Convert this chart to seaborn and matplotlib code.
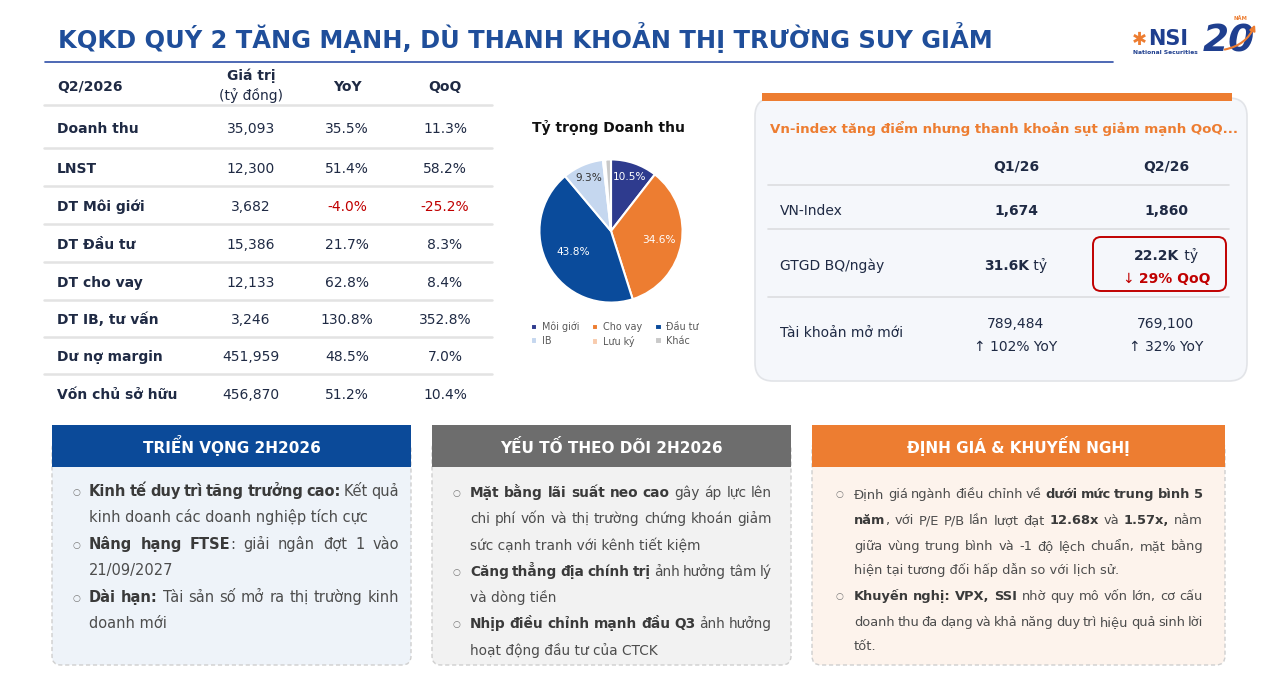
import numpy as np
import seaborn as sns
import matplotlib.pyplot as plt
from matplotlib.patches import FancyBboxPatch, Rectangle

sns.set_theme(style="white")
plt.rcParams['font.family'] = ['DejaVu Sans']

W, H = 1267, 676

# ---- data ----
row_labels = ["Doanh thu", "LNST", "DT Môi giới", "DT Đầu tư", "DT cho vay",
              "DT IB, tư vấn", "Dư nợ margin", "Vốn chủ sở hữu"]
row_values = [35093, 12300, 3682, 15386, 12133, 3246, 451959, 456870]
row_yoy = [35.5, 51.4, -4.0, 21.7, 62.8, 130.8, 48.5, 51.2]
row_qoq = [11.3, 58.2, -25.2, 8.3, 8.4, 352.8, 7.0, 10.4]

pie_labels = ["Môi giới", "Cho vay", "Đầu tư", "IB", "Lưu ký", "Khác"]
pie_shares = [10.5, 34.6, 43.8, 9.3, 0.5, 1.3]
pie_colors = ["#2e3b8e", "#ed7d31", "#0a4b9b", "#c5d7ef", "#f8cbad", "#c9c9c9"]

mkt_quarters = ["Q1/26", "Q2/26"]
mkt_index = ["1,674", "1,860"]
mkt_turnover = ["31.6K", "22.2K"]
turnover_qoq = -29
mkt_accounts = ["789,484", "769,100"]
accounts_yoy = [102, 32]

NAVY = "#1f2a44"
BLUE = "#1f4e9a"
ORANGE = "#ed7d31"
RED = "#c00000"

fig = plt.figure(figsize=(W / 100, H / 100), dpi=100)
fig.patch.set_facecolor("white")
ax = fig.add_axes([0, 0, 1, 1])
ax.set_xlim(0, W)
ax.set_ylim(H, 0)
ax.axis("off")
rend = fig.canvas.get_renderer()

_cache = {}


def text_w(s, size, bold):
    key = (s, size, bold)
    if key not in _cache:
        t = ax.text(0, 0, s, fontsize=size, fontweight="bold" if bold else "normal")
        _cache[key] = t.get_window_extent(rend).width
        t.remove()
    return _cache[key]


def adv(s, size, bold):
    # advance width (not ink width) of s
    return text_w("l" + s + "l", size, bold) - text_w("ll", size, bold)


def split_words(runs):
    words = [[]]
    for txt, bold in runs:
        parts = txt.split(" ")
        for i, p in enumerate(parts):
            if i > 0:
                words.append([])
            if p:
                words[-1].append((p, bold))
    return [w for w in words if w]


def natural_w(runs, size):
    return sum(adv(t, size, b) for t, b in runs)


def tight_w(runs, size):
    # width with word gaps squeezed to 65% of a space
    words = split_words(runs)
    tot = sum(adv(p, size, b) for w in words for p, b in w)
    return tot + 0.65 * adv(" ", size, False) * (len(words) - 1)


def put(x, y, s, size, b, color):
    ax.text(x, y, s, fontsize=size, fontweight="bold" if b else "normal",
            color=color, va="baseline", ha="left")


def draw_runs(x, y, runs, size, color, bold_color=None, width=None, align="left"):
    def col(b):
        return bold_color if (b and bold_color) else color

    if width is None:
        # plain line: each run drawn as one string
        tot = natural_w(runs, size)
        if align == "center":
            x = x - tot / 2
        for t, b in runs:
            put(x, y, t, size, b, col(b))
            x += adv(t, size, b)
        return
    words = split_words(runs)
    wws = [[adv(p, size, b) for p, b in w] for w in words]
    tot = sum(sum(w) for w in wws)
    gap = (width - tot) / max(len(words) - 1, 1)
    cx = x
    for w, ws in zip(words, wws):
        for (p, b), pw in zip(w, ws):
            put(cx, y, p, size, b, col(b))
            cx += pw
        cx += gap


# ---- title ----
ax.text(58, 48, "KQKD QUÝ 2 TĂNG MẠNH, DÙ THANH KHOẢN THỊ TRƯỜNG SUY GIẢM",
        fontsize=17.4, fontweight="bold", color=BLUE, va="baseline")
ax.plot([45, 1113], [62, 62], color="#2f4fa8", lw=1.2)

# logo
ax.text(1139, 45, "✱", fontsize=13, color=ORANGE, ha="center", va="baseline", fontweight="bold")
ax.text(1148, 45, "NSI", fontsize=15, color="#1f3f8f", fontweight="bold", va="baseline")
ax.text(1133, 54, "National Securities", fontsize=4.3, color="#1f3f8f", fontweight="bold", va="baseline")
ax.text(1203, 52, "20", fontsize=27, color="#1f3f8f", fontweight="bold", style="italic", va="baseline")
ax.text(1233, 20, "NĂM", fontsize=3.8, color=ORANGE, fontweight="bold", va="baseline")
ax.annotate("", xy=(1256, 22), xytext=(1222, 50),
            arrowprops=dict(arrowstyle="-|>", color=ORANGE, lw=1.5, mutation_scale=8,
                            connectionstyle="arc3,rad=0.3"))

# ---- left table ----
col_x = [251, 347, 445]
ax.text(57, 91, "Q2/2026", fontsize=10, fontweight="bold", color=NAVY, va="baseline")
ax.text(col_x[0], 80, "Giá trị", fontsize=10, fontweight="bold", color=NAVY, va="baseline", ha="center")
ax.text(col_x[0], 100, "(tỷ đồng)", fontsize=10, color=NAVY, va="baseline", ha="center")
ax.text(col_x[1], 91, "YoY", fontsize=10, fontweight="bold", color=NAVY, va="baseline", ha="center")
ax.text(col_x[2], 91, "QoQ", fontsize=10, fontweight="bold", color=NAVY, va="baseline", ha="center")
row_y = [127, 167, 205, 243, 281, 318, 355, 393]
sep_y = [105, 148, 186, 224, 262, 300, 337, 374]
for y in sep_y:
    ax.plot([44, 492], [y, y], color="#e3e3e3", lw=1.8)
for lab, v, yy, qq, y in zip(row_labels, row_values, row_yoy, row_qoq, row_y):
    b = y + 6
    ax.text(57, b, lab, fontsize=10, fontweight="bold", color=NAVY, va="baseline")
    ax.text(col_x[0], b, f"{v:,}", fontsize=10, color=NAVY, va="baseline", ha="center")
    ax.text(col_x[1], b, f"{yy:.1f}%", fontsize=10, color=RED if yy < 0 else NAVY,
            va="baseline", ha="center")
    ax.text(col_x[2], b, f"{qq:.1f}%", fontsize=10, color=RED if qq < 0 else NAVY,
            va="baseline", ha="center")

# ---- pie ----
ax.text(608, 132, "Tỷ trọng Doanh thu", fontsize=10, fontweight="bold", color="#111111",
        ha="center", va="baseline")
pax = fig.add_axes([538 / W, 1 - 304 / H, 146 / W, 146 / H])
wedges, _, autotexts = pax.pie(
    pie_shares, colors=pie_colors, startangle=90, counterclock=False,
    autopct=lambda p: f"{p:.1f}%" if p > 5 else "", pctdistance=0.7,
    wedgeprops=dict(edgecolor="white", linewidth=1.5),
    textprops=dict(fontsize=7.6, color="white"))
label_r = [0.8, 0.68, 0.6, 0.8, 0.7, 0.7]
for t, wdg, r, s in zip(autotexts, wedges, label_r, pie_shares):
    ang = np.deg2rad((wdg.theta1 + wdg.theta2) / 2)
    t.set_position((r * np.cos(ang), r * np.sin(ang)))
    if s == 9.3:
        t.set_color("#333333")
pax.set_xlim(-1.02, 1.02)
pax.set_ylim(-1.02, 1.02)
pax.set_aspect("equal")
order = [0, 3, 1, 4, 2, 5]
fig.legend([wedges[i] for i in order], [pie_labels[i] for i in order], ncol=3,
           loc="upper left", bbox_to_anchor=(522 / W, 1 - 313 / H), frameon=False,
           fontsize=6.9, handlelength=0.65, handleheight=0.65, handletextpad=0.5,
           columnspacing=1.35, labelspacing=0.4, labelcolor="#595959")

# ---- market card ----
card = FancyBboxPatch((755, 98), 492, 283, boxstyle="round,pad=0,rounding_size=18",
                      facecolor="#f5f7fb", edgecolor="#e2e4e8", lw=1.2)
ax.add_patch(card)
ax.add_patch(Rectangle((762, 93), 470, 8, facecolor=ORANGE, edgecolor="none"))
ax.text(770, 133, "Vn-index tăng điểm nhưng thanh khoản sụt giảm mạnh QoQ...",
        fontsize=9.6, fontweight="bold", color=ORANGE, va="baseline")
qx = [1016, 1166]
for q, x in zip(mkt_quarters, qx):
    ax.text(x, 171, q, fontsize=10, fontweight="bold", color=NAVY, ha="center", va="baseline")
for y in [185, 229, 297]:
    ax.plot([768, 1229], [y, y], color="#dcdde0", lw=1.2)
ax.text(780, 215, "VN-Index", fontsize=10, color=NAVY, va="baseline")
ax.text(780, 270, "GTGD BQ/ngày", fontsize=10, color=NAVY, va="baseline")
ax.text(780, 337, "Tài khoản mở mới", fontsize=10, color=NAVY, va="baseline")
for v, x in zip(mkt_index, qx):
    ax.text(x, 215, v, fontsize=10, fontweight="bold", color=NAVY, ha="center", va="baseline")
draw_runs(qx[0], 270, [(mkt_turnover[0], True), (" tỷ", False)], 10, NAVY, align="center")
ax.add_patch(FancyBboxPatch((1093, 237), 133, 54, boxstyle="round,pad=0,rounding_size=8",
                            facecolor="none", edgecolor=RED, lw=1.4))
draw_runs(qx[1], 260, [(mkt_turnover[1], True), (" tỷ", False)], 10, NAVY, align="center")
draw_runs(qx[1], 283, [("↓", False), (f" {abs(turnover_qoq)}% QoQ", True)], 10, RED, align="center")
for v, g, x in zip(mkt_accounts, accounts_yoy, qx):
    ax.text(x, 328, v, fontsize=10, color=NAVY, ha="center", va="baseline")
    ax.text(x, 351, f"↑ {g}% YoY", fontsize=10, color=NAVY, ha="center", va="baseline")

# ---- bottom boxes ----
boxes = [
    dict(x0=52, x1=411, head="TRIỂN VỌNG 2H2026", hc="#0b4a99", bc="#eef3f9",
         bx=76, tx=89, tx1=399,
         ys=[496, 522, 549, 575, 602, 628],
         lines=[
             (True, True, [("Kinh tế duy trì tăng trưởng cao:", True), (" Kết quả", False)]),
             (False, False, [("kinh doanh các doanh nghiệp tích cực", False)]),
             (True, True, [("Nâng hạng FTSE", True), (": giải ngân đợt 1 vào", False)]),
             (False, False, [("21/09/2027", False)]),
             (True, True, [("Dài hạn:", True), (" Tài sản số mở ra thị trường kinh", False)]),
             (False, False, [("doanh mới", False)]),
         ]),
    dict(x0=432, x1=791, head="YẾU TỐ THEO DÕI 2H2026", hc="#6d6d6d", bc="#f2f2f2",
         bx=456, tx=470, tx1=772,
         ys=[497, 523, 550, 576, 602, 628, 655],
         lines=[
             (True, True, [("Mặt bằng lãi suất neo cao", True), (" gây áp lực lên", False)]),
             (False, True, [("chi phí vốn và thị trường chứng khoán giảm", False)]),
             (False, False, [("sức cạnh tranh với kênh tiết kiệm", False)]),
             (True, True, [("Căng thẳng địa chính trị", True), (" ảnh hưởng tâm lý", False)]),
             (False, False, [("và dòng tiền", False)]),
             (True, True, [("Nhịp điều chỉnh mạnh đầu Q3", True), (" ảnh hưởng", False)]),
             (False, False, [("hoạt động đầu tư của CTCK", False)]),
         ]),
    dict(x0=812, x1=1225, head="ĐỊNH GIÁ & KHUYẾN NGHỊ", hc=ORANGE, bc="#fdf3ec",
         bx=839, tx=854, tx1=1203,
         ys=[498, 524, 550, 574, 600, 626, 650],
         lines=[
             (True, True, [("Định giá ngành điều chỉnh về ", False), ("dưới mức trung bình 5", True)]),
             (False, True, [("năm", True), (", với P/E P/B lần lượt đạt ", False), ("12.68x", True),
                            (" và ", False), ("1.57x,", True), (" nằm", False)]),
             (False, True, [("giữa vùng trung bình và -1 độ lệch chuẩn, mặt bằng", False)]),
             (False, False, [("hiện tại tương đối hấp dẫn so với lịch sử.", False)]),
             (True, True, [("Khuyến nghị: VPX, SSI", True), (" nhờ quy mô vốn lớn, cơ cấu", False)]),
             (False, True, [("doanh thu đa dạng và khả năng duy trì hiệu quả sinh lời", False)]),
             (False, False, [("tốt.", False)]),
         ]),
]
for bx in boxes:
    ax.add_patch(FancyBboxPatch((bx["x0"], 440), bx["x1"] - bx["x0"], 225,
                                boxstyle="round,pad=0,rounding_size=9",
                                facecolor=bx["bc"], edgecolor="#cfcfcf", lw=1, ls=(0, (3, 2))))
    ax.add_patch(Rectangle((bx["x0"], 425), bx["x1"] - bx["x0"], 42,
                           facecolor=bx["hc"], edgecolor="none"))
    ax.text((bx["x0"] + bx["x1"]) / 2, 453, bx["head"], fontsize=11, fontweight="bold",
            color="white", ha="center", va="baseline")
    width = bx["tx1"] - bx["tx"]
    size = 10.5
    while any(tight_w(r, size) > width for _, j, r in bx["lines"] if j):
        size -= 0.1
    for (bul, just, runs), y in zip(bx["lines"], bx["ys"]):
        if bul:
            ax.text(bx["bx"], y - 1, "○", fontsize=6.5, color="#777777", ha="center", va="baseline")
        draw_runs(bx["tx"], y, runs, size, "#4d4d4d", bold_color="#3a3a3a",
                  width=width if just else None)

fig.savefig("out.png", dpi=100, facecolor="white")
